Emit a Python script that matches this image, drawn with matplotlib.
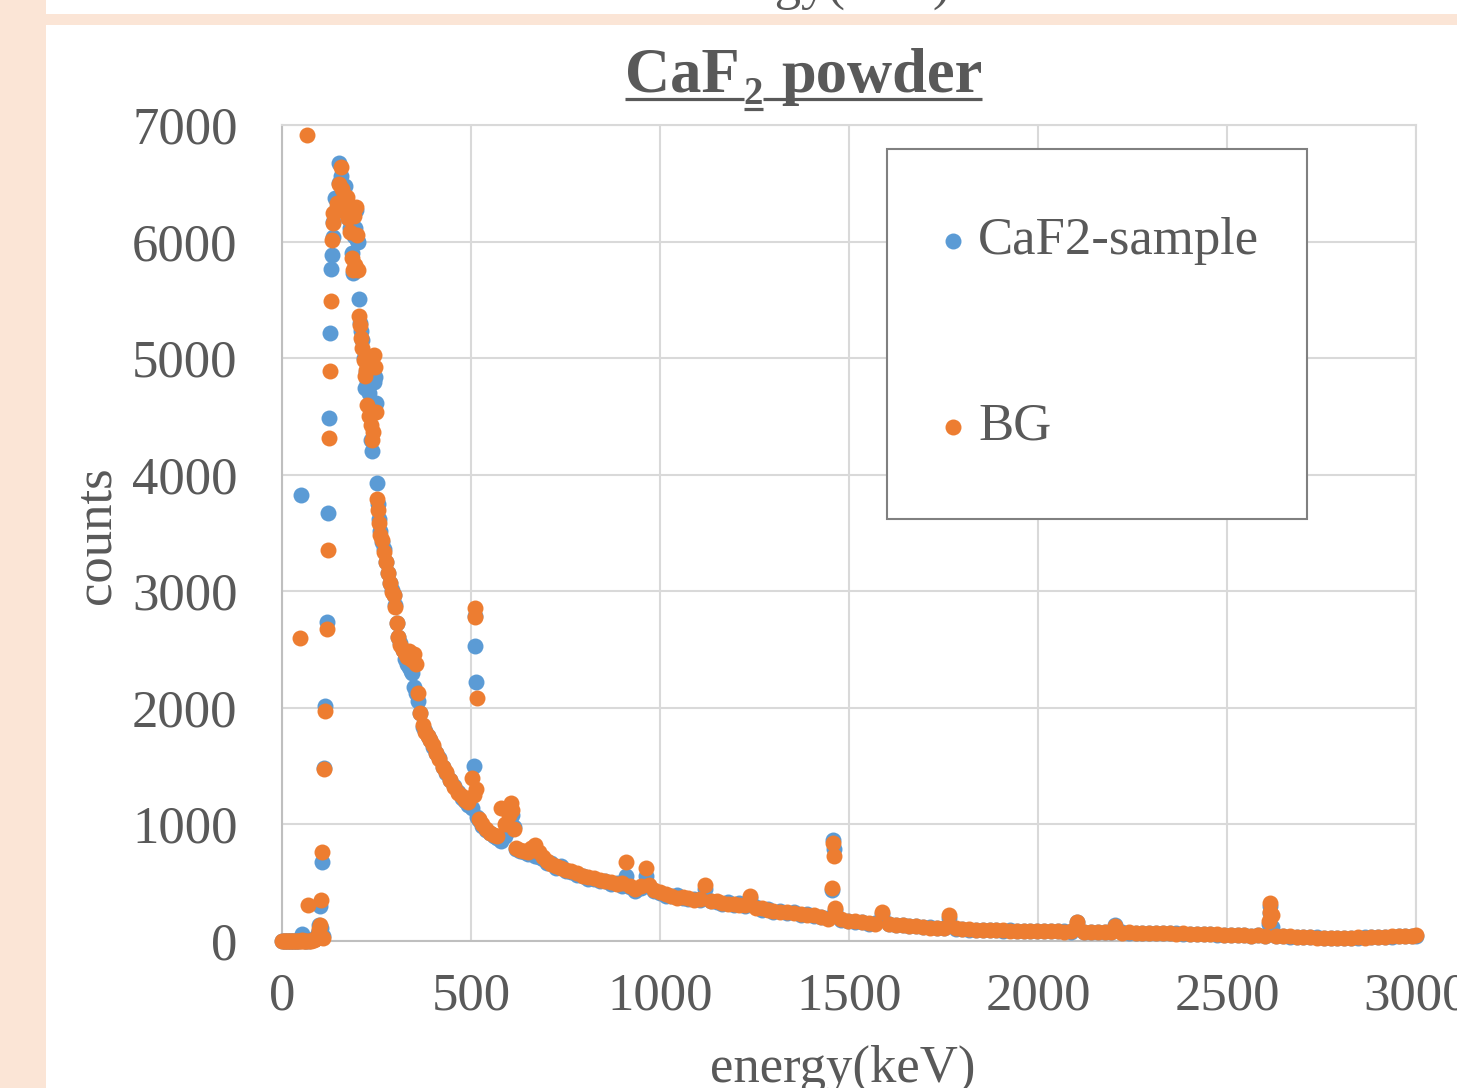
import matplotlib
matplotlib.use('Agg')
import matplotlib.pyplot as plt
from matplotlib.patches import Rectangle
from matplotlib.lines import Line2D

W, H = 1457, 1088

# channel energies (keV), shared by both spectra
energy_kev = [
    0, 4, 8, 12, 16, 20, 24, 28, 32, 36,
    40, 44, 48, 50, 53, 56, 60, 64, 67, 69,
    72, 76, 80, 84, 88, 92, 96, 99, 100, 103,
    105, 108, 111, 115, 119, 122, 124, 127, 130, 132,
    134, 136, 140, 146, 150, 152, 156, 160, 163, 167,
    171, 175, 180, 184, 187, 190, 193, 196, 198, 202,
    204, 206, 209, 212, 216, 220, 222, 226, 230, 235,
    237, 241, 243, 246, 249, 251, 253, 256, 260, 265,
    270, 275, 281, 286, 290, 295, 299, 303, 308, 313,
    320, 326, 331, 336, 341, 345, 350, 355, 360, 365,
    372, 378, 385, 392, 400, 407, 415, 426, 435, 445,
    455, 466, 476, 484, 493, 503, 508, 510, 511, 513,
    515, 520, 530, 540, 550, 560, 570, 580, 590, 600,
    605, 609, 613, 620, 630, 640, 650, 660, 670, 680,
    690, 700, 712, 725, 738, 750, 765, 780, 795, 810,
    825, 840, 855, 870, 885, 900, 911, 920, 935, 950,
    963, 970, 985, 1000, 1015, 1030, 1045, 1060, 1075, 1090,
    1105, 1120, 1135, 1150, 1165, 1180, 1195, 1210, 1225, 1238,
    1255, 1270, 1285, 1300, 1318, 1336, 1354, 1372, 1390, 1408,
    1426, 1444, 1455, 1458, 1461, 1464, 1480, 1498, 1516, 1534,
    1552, 1570, 1588, 1606, 1624, 1642, 1660, 1678, 1696, 1714,
    1732, 1750, 1764, 1782, 1800, 1818, 1836, 1854, 1872, 1890,
    1908, 1926, 1944, 1962, 1980, 1998, 2016, 2034, 2052, 2070,
    2088, 2104, 2122, 2140, 2158, 2176, 2194, 2204, 2222, 2240,
    2258, 2276, 2294, 2312, 2330, 2348, 2366, 2384, 2402, 2420,
    2438, 2456, 2474, 2492, 2510, 2528, 2546, 2564, 2582, 2600,
    2610, 2613, 2615, 2618, 2630, 2648, 2666, 2684, 2702, 2720,
    2738, 2756, 2774, 2792, 2810, 2828, 2846, 2864, 2882, 2900,
    2918, 2936, 2954, 2972, 2990, 3000,
]

sample_counts = [
    0, 0, 0, 0, 0, 0, 0, 0, 0, 0,
    0, 0, 10, 3825, 60, 10, 0, 0, 5, 10,
    0, 5, 10, 15, 20, 30, 70, 140, 300, 110,
    680, 40, 1480, 2015, 2735, 3670, 4485, 5214, 5763, 5883,
    6040, 6166, 6374, 6300, 6500, 6675, 6560, 6400, 6300, 6477,
    6290, 6200, 6120, 5900, 5729, 6050, 6120, 6270, 6010, 5997,
    5506, 5300, 5230, 5154, 5000, 4742, 4882, 4800, 4700, 4297,
    4205, 4550, 4794, 4839, 4613, 3928, 3750, 3620, 3520, 3420,
    3360, 3250, 3153, 3068, 3010, 2967, 2880, 2725, 2610, 2560,
    2496, 2420, 2380, 2350, 2320, 2296, 2181, 2124, 2060, 1953,
    1838, 1800, 1760, 1724, 1660, 1610, 1570, 1495, 1440, 1381,
    1330, 1280, 1230, 1200, 1170, 1140, 1500, 2530, 2790, 2221,
    1066, 1040, 990, 950, 923, 900, 880, 860, 900, 950,
    1000, 1080, 980, 790, 770, 760, 750, 752, 730, 720,
    700, 665, 672, 630, 640, 600, 595, 562, 560, 530,
    535, 515, 512, 492, 500, 470, 560, 465, 430, 455,
    560, 470, 425, 415, 390, 385, 395, 365, 362, 360,
    355, 450, 340, 335, 315, 335, 305, 322, 298, 370,
    292, 268, 278, 252, 255, 236, 248, 222, 232, 212,
    205, 200, 437, 866, 790, 270, 180, 175, 165, 160,
    150, 155, 230, 145, 140, 135, 130, 125, 120, 118,
    110, 115, 200, 105, 100, 98, 95, 96, 92, 94,
    90, 92, 88, 90, 86, 88, 85, 84, 82, 83,
    80, 160, 80, 78, 76, 78, 75, 140, 74, 72,
    72, 70, 71, 68, 70, 66, 68, 64, 62, 60,
    60, 58, 55, 52, 50, 52, 48, 46, 48, 44,
    150, 300, 240, 120, 42, 40, 38, 38, 37, 35,
    33, 30, 28, 26, 25, 28, 30, 32, 33, 35,
    37, 38, 40, 42, 45, 46,
]

bg_counts = [
    0, 0, 0, 0, 0, 0, 0, 0, 0, 0,
    0, 0, 2600, 0, 5, 0, 0, 0, 6910, 310,
    0, 0, 5, 10, 15, 25, 50, 100, 140, 350,
    765, 30, 1475, 1973, 2676, 3353, 4316, 4890, 5489, 6016,
    6160, 6243, 6250, 6329, 6490, 6330, 6640, 6450, 6380, 6300,
    6383, 6200, 6083, 5857, 5754, 6217, 5797, 6300, 6054, 5760,
    5360, 5283, 5171, 5085, 4980, 4850, 4900, 4597, 4500, 4425,
    4300, 4368, 5025, 4925, 4540, 3788, 3700, 3582, 3480, 3439,
    3339, 3250, 3153, 3068, 2990, 2967, 2867, 2725, 2610, 2540,
    2496, 2470, 2440, 2490, 2450, 2410, 2460, 2380, 2124, 1953,
    1850, 1790, 1760, 1724, 1680, 1610, 1560, 1495, 1450, 1381,
    1320, 1270, 1240, 1210, 1190, 1398, 1250, 2779, 2856, 1300,
    2084, 1050, 1000, 960, 930, 910, 900, 1140, 1000, 1080,
    1183, 1120, 960, 800, 780, 770, 760, 800, 823, 760,
    720, 690, 660, 640, 630, 610, 600, 580, 560, 545,
    540, 520, 515, 505, 490, 500, 680, 470, 450, 470,
    623, 480, 440, 420, 400, 385, 370, 380, 365, 355,
    360, 480, 340, 345, 325, 320, 315, 310, 305, 390,
    285, 280, 265, 260, 250, 245, 240, 230, 225, 220,
    210, 190, 455, 838, 729, 283, 185, 170, 168, 160,
    155, 150, 250, 145, 138, 135, 128, 125, 122, 115,
    112, 110, 225, 108, 100, 100, 96, 94, 95, 92,
    92, 88, 90, 86, 88, 84, 86, 82, 84, 80,
    82, 163, 78, 80, 76, 75, 76, 130, 72, 74,
    70, 72, 68, 70, 66, 68, 64, 66, 62, 60,
    58, 60, 56, 54, 52, 50, 50, 46, 48, 45,
    170, 326, 252, 223, 45, 42, 40, 36, 38, 32,
    30, 28, 25, 28, 26, 30, 32, 30, 35, 34,
    38, 40, 42, 44, 46, 48,
]

x_ticks = [0, 500, 1000, 1500, 2000, 2500, 3000]
y_ticks = [0, 1000, 2000, 3000, 4000, 5000, 6000, 7000]

BLUE = '#5B9BD5'
ORANGE = '#ED7D31'
GREY_TXT = '#595959'
PEACH = '#FBE5D6'

plt.rcParams['font.family'] = 'Liberation Serif'


def fx(px):
    return px / W


def fy(py):
    return 1 - py / H


fig = plt.figure(figsize=(W / 100, H / 100), dpi=100)
fig.patch.set_facecolor('white')

# peach slide background showing round the chart
fig.add_artist(Rectangle((0, 0), fx(46), 1, transform=fig.transFigure,
                         facecolor=PEACH, edgecolor='none', zorder=0))
fig.add_artist(Rectangle((0, fy(25)), 1, fy(14) - fy(25), transform=fig.transFigure,
                         facecolor=PEACH, edgecolor='none', zorder=0))
# cut-off axis label of the chart above
fig.text(fx(818), fy(-1), 'energy(keV)', ha='center', va='baseline',
         fontsize=38, color=GREY_TXT)

ax = fig.add_axes([fx(282), fy(941), fx(1416) - fx(282), fy(125) - fy(941)])
ax.scatter(energy_kev, sample_counts, s=132, color=BLUE, linewidths=0,
           clip_on=False, zorder=3)
ax.scatter(energy_kev, bg_counts, s=132, color=ORANGE, linewidths=0,
           clip_on=False, zorder=4)

ax.set_xlim(0, 3000)
ax.set_ylim(0, 7000)
ax.set_xticks(x_ticks)
ax.set_yticks(y_ticks)
ax.grid(color='#D9D9D9', lw=1.5)
ax.set_axisbelow(True)
for side in ['top', 'right']:
    ax.spines[side].set_color('#D9D9D9')
    ax.spines[side].set_linewidth(1.5)
for side in ['left', 'bottom']:
    ax.spines[side].set_color('#BFBFBF')
    ax.spines[side].set_linewidth(1.5)
ax.tick_params(length=0, labelsize=38, labelcolor=GREY_TXT)
ax.tick_params(axis='x', pad=23)
ax.tick_params(axis='y', pad=32)

# axis titles
fig.text(fx(97), fy(535), 'counts', rotation=90, ha='center', va='center',
         fontsize=38, color=GREY_TXT)
fig.text(fx(843), fy(1082), 'energy(keV)', ha='center', va='baseline',
         fontsize=38, color=GREY_TXT)

# title with subscript and underline
r = fig.canvas.get_renderer()
t1 = fig.text(fx(625), fy(92), 'CaF', fontsize=45, weight='bold',
              color=GREY_TXT, va='baseline')
b1 = t1.get_window_extent(r)
t2 = fig.text(b1.x1 / W + fx(4), fy(104), '2', fontsize=28, weight='bold',
              color=GREY_TXT, va='baseline')
b2 = t2.get_window_extent(r)
t3 = fig.text(b2.x1 / W + fx(18), fy(92), 'powder', fontsize=45, weight='bold',
              color=GREY_TXT, va='baseline')
b3 = t3.get_window_extent(r)
ul = dict(color=GREY_TXT, lw=2.3, transform=fig.transFigure, solid_capstyle='butt')
fig.add_artist(Line2D([b1.x0 / W, b2.x0 / W], [fy(99), fy(99)], **ul))
fig.add_artist(Line2D([b2.x0 / W, b2.x1 / W], [fy(109), fy(109)], **ul))
fig.add_artist(Line2D([b2.x1 / W, b3.x1 / W], [fy(99), fy(99)], **ul))

# legend box
fig.add_artist(Rectangle((fx(887), fy(519)), fx(1307) - fx(887), fy(149) - fy(519),
                         transform=fig.transFigure, facecolor='white',
                         edgecolor='#808080', lw=1.5, zorder=5))
for ypx, col, lab in [(241, BLUE, 'CaF2-sample'), (427, ORANGE, 'BG')]:
    fig.add_artist(Line2D([fx(953)], [fy(ypx)], marker='o', ms=11.5, color=col,
                          mew=0, transform=fig.transFigure, zorder=6))
    fig.text(fx(978), fy(ypx), lab, ha='left', va='center', fontsize=38,
             color=GREY_TXT, zorder=6)

fig.savefig('out.png', dpi=100)
